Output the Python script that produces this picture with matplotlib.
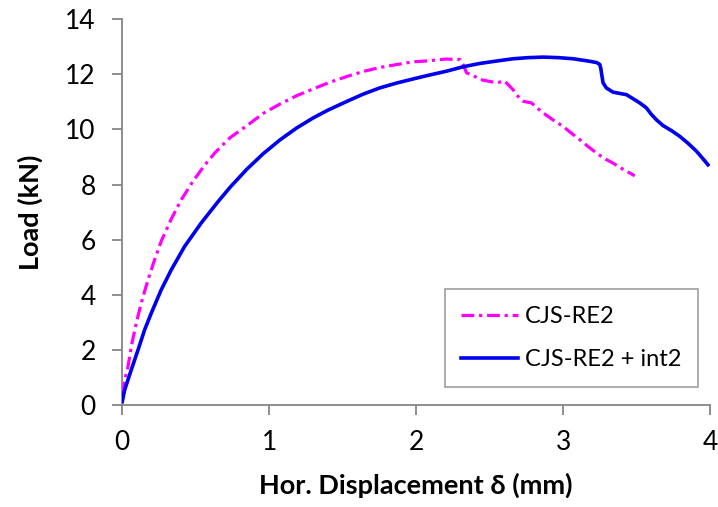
import matplotlib
matplotlib.use("Agg")
import matplotlib.pyplot as plt

# CJS-RE2 (magenta, dash-dot)
re2_x = [0.003, 0.016, 0.039, 0.061, 0.095, 0.129, 0.175, 0.22, 0.265, 0.333, 0.401, 0.481,
         0.56, 0.63, 0.733, 0.857, 0.959, 1.073, 1.186, 1.3, 1.413, 1.53, 1.64, 1.75, 1.867,
         1.98, 2.07, 2.2, 2.3, 2.32, 2.343, 2.39, 2.433, 2.49, 2.547, 2.603, 2.63, 2.66,
         2.683, 2.71, 2.728, 2.785, 2.83, 2.864, 2.93, 3.0, 3.06, 3.114, 3.17, 3.227, 3.28,
         3.34, 3.41, 3.488]
re2_y = [0.40, 0.92, 1.41, 2.13, 2.98, 3.71, 4.55, 5.28, 5.95, 6.75, 7.45, 8.12,
         8.7, 9.15, 9.7, 10.17, 10.58, 10.92, 11.22, 11.47, 11.71, 11.92, 12.1, 12.24, 12.35,
         12.45, 12.48, 12.55, 12.53, 12.35, 12.05, 11.95, 11.81, 11.75, 11.69, 11.75, 11.6, 11.44,
         11.26, 11.1, 11.02, 10.96, 10.75, 10.6, 10.35, 10.11, 9.85, 9.63, 9.38, 9.15, 8.95,
         8.78, 8.55, 8.32]

# CJS-RE2 + int2 (blue, solid)
int2_x = [0.0, 0.016, 0.061, 0.107, 0.152, 0.197, 0.265, 0.333, 0.424, 0.537, 0.651, 0.733,
          0.846, 0.959, 1.073, 1.186, 1.3, 1.40, 1.53, 1.64, 1.75, 1.867, 1.98, 2.082, 2.207,
          2.32, 2.433, 2.55, 2.66, 2.76, 2.864, 2.97, 3.068, 3.18, 3.23, 3.25, 3.257, 3.261,
          3.272, 3.295, 3.34, 3.39, 3.431, 3.48, 3.522, 3.567, 3.6, 3.635, 3.68, 3.74, 3.794,
          3.85, 3.908, 3.95, 3.986]
int2_y = [0.14, 0.56, 1.29, 2.01, 2.74, 3.34, 4.19, 4.91, 5.76, 6.61, 7.38, 7.9,
          8.55, 9.12, 9.62, 10.05, 10.42, 10.7, 11.02, 11.28, 11.5, 11.68, 11.83, 11.96, 12.11,
          12.27, 12.39, 12.48, 12.56, 12.6, 12.62, 12.6, 12.56, 12.47, 12.42, 12.35, 12.2, 12.05,
          11.69, 11.5, 11.35, 11.3, 11.26, 11.1, 10.96, 10.78, 10.55, 10.35, 10.14, 9.95, 9.75,
          9.5, 9.21, 8.95, 8.72]

x_ticks = [0, 1, 2, 3, 4]
y_ticks = [0, 2, 4, 6, 8, 10, 12, 14]

plt.rcParams['font.family'] = ['Lato', 'DejaVu Sans']

fig = plt.figure(figsize=(7.18, 5.07), dpi=100)
ax = fig.add_axes([0.1703, 0.2002, 0.8186, 0.7623])

ax.plot(re2_x, re2_y, color='#FF00FF', linewidth=2.3,
        linestyle=(0, (4, 1.5, 1, 1.5)), label='CJS-RE2')
ax.plot(int2_x, int2_y, color='#0000EE', linewidth=2.6, label='CJS-RE2 + int2')

ax.set_xlim(0, 4)
ax.set_ylim(0, 14)
ax.set_xticks(x_ticks)
ax.set_yticks(y_ticks)
ax.set_xticklabels([str(v) for v in x_ticks])
ax.set_yticklabels([str(v) for v in y_ticks])

for s in ['top', 'right']:
    ax.spines[s].set_visible(False)
for s in ['left', 'bottom']:
    ax.spines[s].set_color('#868686')
    ax.spines[s].set_linewidth(1.3)
    ax.spines[s].set_zorder(0)

ax.tick_params(axis='both', direction='out', length=7, width=1.3, color='#868686',
               labelsize=19, labelcolor='black')
ax.tick_params(axis='x', pad=11)
ax.tick_params(axis='y', pad=12)

ax.set_xlabel('Hor. Displacement δ (mm)', fontsize=19.5, fontweight='bold', labelpad=12)
ax.set_ylabel('Load (kN)', fontsize=19.5, fontweight='bold', labelpad=16)

leg = ax.legend(loc='lower right', bbox_to_anchor=(0.979, 0.048), borderaxespad=0,
                fontsize=17, frameon=True, fancybox=False, edgecolor='#868686',
                handlelength=2.4, handletextpad=0.3, borderpad=0.7, labelspacing=0.95)
leg.get_frame().set_linewidth(1.2)

fig.savefig('out.png', dpi=100)
